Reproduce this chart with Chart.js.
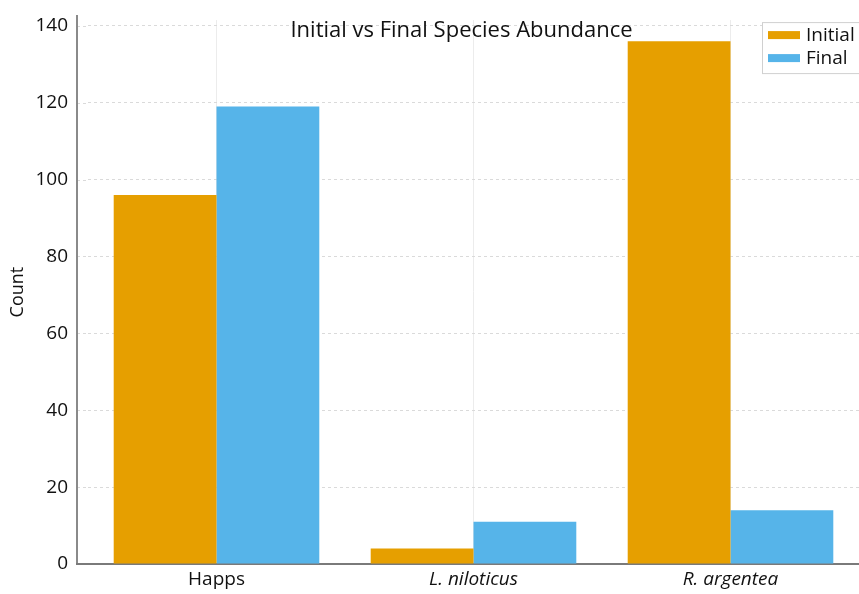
<!DOCTYPE html>
<html lang="en">
<head>
    <meta charset="UTF-8">
    <title>Initial vs Final Species Abundance</title>
    <style type="text/css">
        body { margin: 0; background: #fff; }
        .chartBox { width: 859px; height: 594px; }
    </style>
</head>
<body>
    <div class="chartBox">
        <canvas id="myChart"></canvas>
    </div>

    <script src="https://cdn.jsdelivr.net/npm/chart.js"></script>
    <script>
        // values
        var species = ['Happs', 'L. niloticus', 'R. argentea'];
        var initialCounts = [96, 4, 136];
        var finalCounts = [119, 11, 14];
        var yTicks = [0, 20, 40, 60, 80, 100, 120, 140];

        var orange = '#E69F00';
        var blue = '#56B4E9';
        var fontName = '"Open Sans", "Noto Sans", sans-serif';
        var axisGap = 11; // the y axis line sits a little left of the first category

        var frame = {
            id: 'frame',
            afterLayout: function(chart) {
                // nudge the title a bit left of the plot centre, like the original
                chart.titleBlock.right -= 2 * axisGap + 2;
            },
            afterDatasetsDraw: function(chart) {
                var ctx = chart.ctx;
                var a = chart.chartArea;
                var ys = chart.scales.y;
                ctx.save();
                // grid stubs in the gap left of the plot
                ctx.strokeStyle = '#dadada';
                ctx.lineWidth = 1;
                ctx.setLineDash([3, 3]);
                ys.ticks.forEach(function(t) {
                    var y = Math.round(ys.getPixelForValue(t.value)) + 0.5;
                    ctx.beginPath();
                    ctx.moveTo(a.left - axisGap, y);
                    ctx.lineTo(a.left, y);
                    ctx.stroke();
                });
                ctx.setLineDash([]);
                // axis lines
                ctx.strokeStyle = '#8a8a8a';
                ctx.lineWidth = 2;
                ctx.beginPath();
                ctx.moveTo(a.left - axisGap, a.top - 5);
                ctx.lineTo(a.left - axisGap, a.bottom);
                ctx.stroke();
                ctx.strokeStyle = '#7a7a7a';
                ctx.beginPath();
                ctx.moveTo(a.left - axisGap - 1, a.bottom);
                ctx.lineTo(a.left, a.bottom);
                ctx.stroke();
                ctx.restore();
            },
            afterDraw: function(chart) {
                // legend as a framed box inside the plot, top right
                var ctx = chart.ctx;
                var a = chart.chartArea;
                var x0 = a.right - 97, y0 = a.top + 2;
                ctx.save();
                ctx.fillStyle = '#ffffff';
                ctx.fillRect(x0, y0, 120, 51);
                ctx.strokeStyle = '#d0d0d0';
                ctx.lineWidth = 1;
                ctx.strokeRect(x0 + 0.5, y0 + 0.5, 120, 51);
                ctx.font = '19px ' + fontName;
                ctx.textBaseline = 'middle';
                chart.data.datasets.forEach(function(ds, i) {
                    var y = y0 + 13 + i * 23;
                    ctx.fillStyle = ds.backgroundColor;
                    ctx.fillRect(x0 + 6, y - 4, 32, 8);
                    ctx.fillStyle = '#111';
                    ctx.fillText(ds.label, x0 + 44, y);
                });
                ctx.restore();
            }
        };

        var myChart = new Chart(document.getElementById('myChart').getContext('2d'), {
            type: 'bar',
            data: {
                labels: species,
                datasets: [{
                    label: 'Initial',
                    data: initialCounts,
                    backgroundColor: orange,
                    borderWidth: 0
                }, {
                    label: 'Final',
                    data: finalCounts,
                    backgroundColor: blue,
                    borderWidth: 0
                }]
            },
            options: {
                responsive: true,
                maintainAspectRatio: false,
                animation: false,
                datasets: {
                    bar: {
                        categoryPercentage: 0.8,
                        barPercentage: 1.0
                    }
                },
                layout: {
                    padding: { top: 0, right: 0, left: 0, bottom: 0 }
                },
                scales: {
                    x: {
                        offset: true,
                        grid: {
                            offset: false,
                            color: '#ececec',
                            lineWidth: 1,
                            drawTicks: false
                        },
                        border: { display: true, color: '#7a7a7a', width: 2 },
                        ticks: {
                            color: '#111',
                            padding: 4,
                            font: function(c) {
                                return { family: fontName, size: 19, style: c.index > 0 ? 'italic' : 'normal' };
                            }
                        },
                        afterFit: function(scale) { scale.height = 30; }
                    },
                    y: {
                        min: 0,
                        max: 141.5,
                        afterBuildTicks: function(scale) {
                            scale.ticks = yTicks.map(function(v) { return { value: v }; });
                        },
                        grid: {
                            color: '#dadada',
                            lineWidth: 1,
                            drawTicks: false
                        },
                        // in v4 border.dash sets the dash of the grid lines; the axis line itself is drawn by the frame plugin
                        border: { display: false, dash: [3, 3] },
                        ticks: {
                            color: '#111',
                            padding: 9 + axisGap,
                            autoSkip: false,
                            font: { family: fontName, size: 19, lineHeight: 0.01 }
                        },
                        title: {
                            display: true,
                            text: 'Count',
                            color: '#111',
                            padding: { top: 7, bottom: 0 },
                            font: { family: fontName, size: 18 }
                        },
                        afterFit: function(scale) { scale.width = 77 + axisGap; }
                    }
                },
                plugins: {
                    title: {
                        display: true,
                        fullSize: false,
                        text: 'Initial vs Final Species Abundance',
                        color: '#111',
                        font: { family: fontName, size: 22, weight: 'normal' },
                        padding: { top: -3, bottom: -23.4 }
                    },
                    legend: { display: false },
                    tooltip: { enabled: false }
                }
            },
            plugins: [frame]
        });
    </script>
</body>
</html>
